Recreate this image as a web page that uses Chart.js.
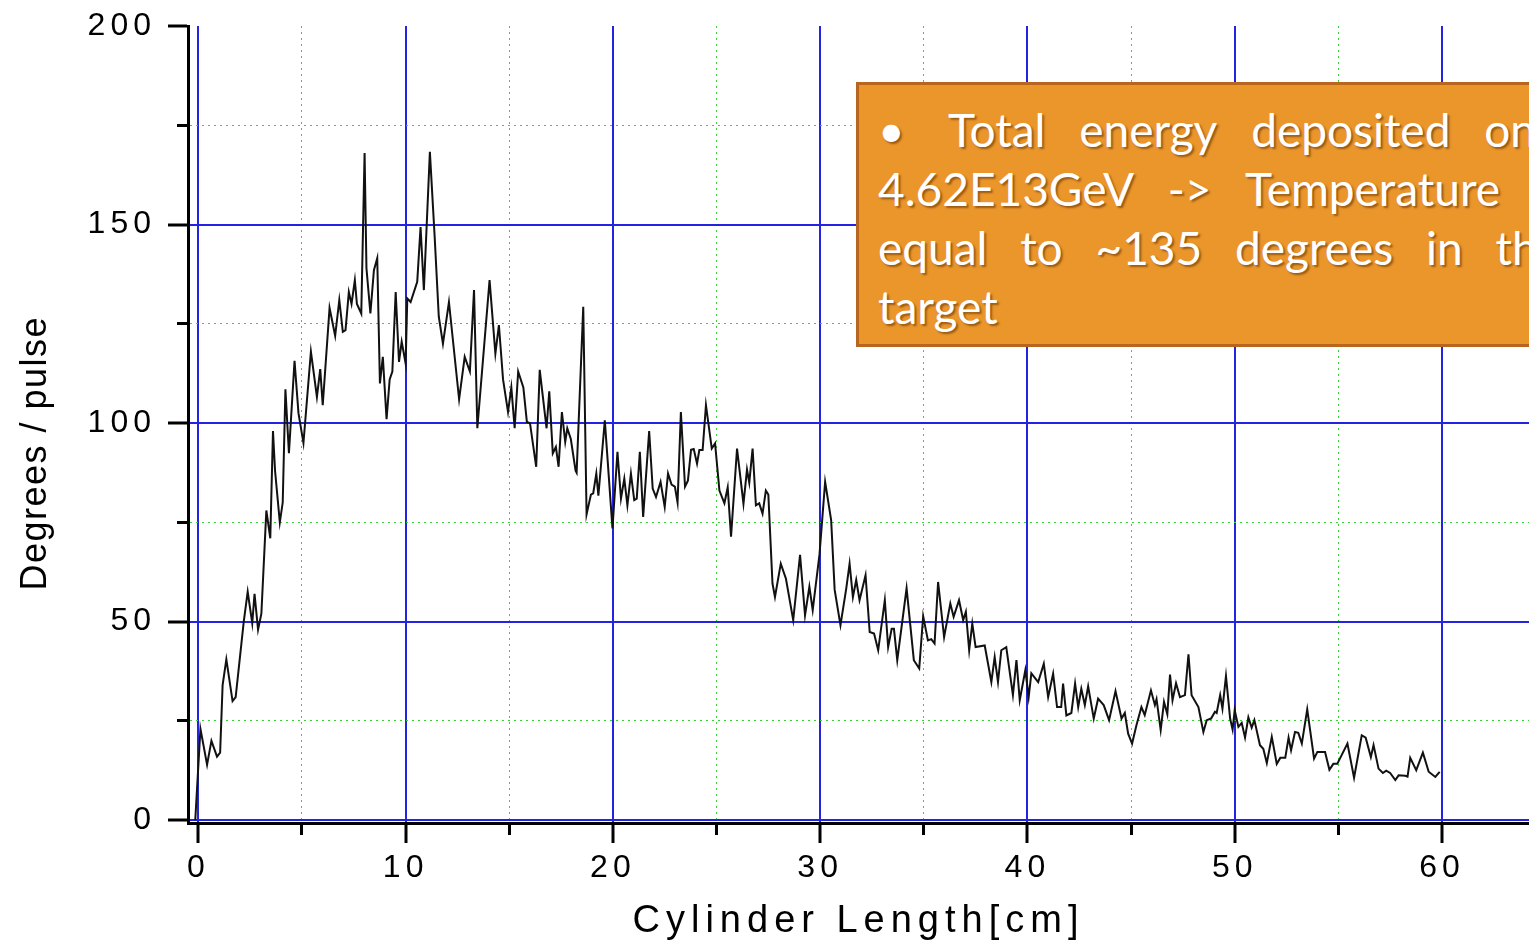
<!DOCTYPE html>
<html>
<head>
<meta charset="utf-8">
<script src="https://cdn.jsdelivr.net/npm/chart.js@4.4.1/dist/chart.umd.min.js"></script>
<style>
  html, body { margin: 0; padding: 0; background: #fff; overflow: hidden; }
  #wrap { position: relative; width: 1529px; height: 949px; }
  #note {
    position: absolute; left: 856px; top: 82px; width: 760px; height: 259px;
    background: #ea962b; border: 3px solid #b8661f; overflow: hidden;
    font-family: Lato, "Open Sans", sans-serif; font-size: 46px; color: #fff;
    text-shadow: 2px 2px 2px rgba(90, 40, 0, 0.55);
  }
  #note .row { position: absolute; left: 19px; height: 59px; line-height: 59px;
    display: flex; justify-content: space-between; white-space: nowrap; }
</style>
</head>
<body>
<div id="wrap">
  <canvas id="energyChart" width="1529" height="949"></canvas>
  <div id="note">
    <div class="row" style="top:15px;">•</div>
    <div class="row" style="top:15px; left:89px; width:588px;"><span>Total</span><span>energy</span><span>deposited</span><span>on</span></div>
    <div class="row" style="top:74px; width:622px;"><span>4.62E13GeV</span><span>-&gt;</span><span>Temperature</span></div>
    <div class="row" style="top:133px; width:684px;"><span>equal</span><span>to</span><span>~135</span><span>degrees</span><span>in</span><span>the</span></div>
    <div class="row" style="top:192px;">target</div>
  </div>
</div>
<script>
// cylinder length (cm) and temperature rise per pulse
var lengthCm = [-0.15,0.1,0.42,0.63,0.9,1.05,1.17,1.35,1.65,1.8,2.19,2.38,2.6,2.71,2.88,3.04,3.28,3.47,3.6,3.7,3.93,4.07,4.2,4.37,4.64,4.83,5.07,5.43,5.72,5.88,6.0,
  6.33,6.6,6.8,6.97,7.1,7.26,7.39,7.55,7.65,7.86,8.02,8.11,8.3,8.47,8.63,8.76,8.9,9.08,9.23,9.36,9.52,9.68,9.81,10.0,10.08,10.24,10.56,10.72,10.88,11.17,11.4,11.6,11.8,12.09,
  12.58,12.85,13.1,13.3,13.46,14.05,14.33,14.5,14.7,14.94,15.1,15.26,15.43,15.68,15.85,16.0,16.3,16.47,16.8,16.93,17.1,17.25,17.38,17.54,17.7,17.8,17.97,18.2,18.25,18.57,18.73,18.94,19.05,19.2,19.3,19.61,19.98,
  20.22,20.39,20.55,20.7,20.87,21.03,21.15,21.3,21.46,21.75,21.92,22.08,22.3,22.5,22.66,22.83,22.99,23.12,23.28,23.48,23.62,23.77,23.9,24.06,24.17,24.33,24.49,24.77,24.93,25.14,25.38,25.54,25.7,25.99,26.3,26.47,26.58,26.74,26.9,27.06,27.22,27.38,27.5,27.7,27.82,28.1,28.35,28.7,29.03,29.27,29.48,29.64,29.97,
  30.24,30.53,30.7,30.98,31.26,31.42,31.58,31.74,31.9,32.19,32.39,32.6,32.8,33.12,33.28,33.45,33.56,33.72,34.17,34.52,34.78,34.97,35.2,35.36,35.52,35.69,35.98,36.28,36.44,36.7,36.9,37.03,37.19,37.34,37.5,37.94,38.26,38.42,38.58,38.74,38.98,39.3,39.47,39.63,39.9,
  40.06,40.19,40.52,40.79,41.0,41.24,41.43,41.63,41.72,41.88,42.12,42.3,42.45,42.6,42.77,42.93,43.2,43.41,43.68,43.94,44.25,44.54,44.7,44.86,45.05,45.26,45.5,45.66,45.96,46.15,46.23,46.43,46.59,46.75,46.88,47.0,47.17,47.36,47.6,47.77,47.92,48.25,48.49,48.65,48.86,49.05,49.13,49.3,49.41,49.58,49.78,49.9,
  50.0,50.18,50.34,50.5,50.66,50.82,50.95,51.22,51.38,51.55,51.79,52.03,52.2,52.44,52.6,52.72,52.91,53.07,53.24,53.5,53.83,53.99,54.36,54.57,54.76,54.95,55.44,55.76,56.13,56.32,56.57,56.7,56.94,57.15,57.31,57.5,57.75,57.91,58.23,58.34,58.47,58.76,59.08,59.36,59.68,59.89];
var degreesPerPulse = [0,23,14,20,16,17,34,40.5,30,31,50,57.5,49.6,57,48,52,78,71,98,88,75,80,108.5,92.4,115.7,102.5,95,118,106.6,113.6,104.5,
  129,122,131,123,123.4,133,130,136,130,127.6,168,139,127.6,138.5,141.5,110,116.7,101,111,113,133,115.4,120.5,115,131.4,130.5,135.6,149.4,133.5,168.3,147,126.8,120,130.5,
  106,116.7,113,133.5,98.7,136,117.5,124.7,111,102.8,109,98.7,113,109,100.3,100,89,113.4,98.7,108,92.4,94,89,102.8,95.3,98.7,96,88,87.5,129.3,77,82,82.3,87.3,81.7,100.7,73.5,
  92.8,81,86,79.3,87.3,80.6,81,92.8,76.4,98,83.5,81.4,85.2,78.9,87.3,84.5,84,80,102.8,84,85.5,93.3,93.5,89.8,93.2,93.2,104.5,93.6,94.9,83,79.8,83.8,71.4,93.6,79.7,88.3,85,93.6,79.3,79.8,77.2,83,82,59.6,56.2,64.6,60.8,50.4,66.8,51.6,58.8,52.9,67,
  85.2,75.6,58,49.1,58.4,64.6,56.2,60.5,55.4,61.7,47.4,47,42.8,55.4,43.6,48.2,48.2,40.3,58.4,40.3,38.2,51.4,45.3,45.6,44.5,60,46.1,54.6,51.2,55.4,50.4,52.5,42.8,49.5,43.6,44,34.8,41.1,34.8,42.8,43.6,31.5,40.3,30.2,37.8,
  31,37,34.8,39.4,31,36.9,28.5,28.5,34.4,26.4,27,34.4,28.5,33.1,29,33.7,25.6,30.6,29,25.2,32.5,25.6,27,21.8,19.3,23.9,28.5,26.5,32.7,29,30.5,22.7,29.8,26.7,36.7,30.2,34.5,31,31.5,41.8,31.5,28.5,22.2,25.2,25.6,27.3,27,31.5,28.1,36.3,25.6,22.8,
  27.7,23.5,24.5,20.8,25.9,23.3,25.2,18.9,18,14.4,21,14.2,15.7,15.7,20.8,17.6,22.2,22,19.3,27.9,15.5,17.2,17.2,12.7,14.2,14.2,19.3,10.7,21.4,20.8,15.9,18.9,13,11.9,12.5,11.9,10.1,11.3,11.2,11,15.7,12.6,17,12.2,10.9,12.2];
var xTickLabels = [0, 10, 20, 30, 40, 50, 60];
var yTickLabels = [0, 50, 100, 150, 200];

var majorBlue = 'rgb(35, 35, 225)';
var minorGreen = 'rgb(50, 215, 50)';

function isMajor(ctx, labels) {
  return ctx.tick && labels.indexOf(ctx.tick.value) !== -1;
}

// wider text, the original labels look stretched
var spacedText = {
  id: 'spacedText',
  beforeDraw: function(chart) {
    var spacing = { x: ['5px', '6px'], y: ['5px', '1.5px'] };
    ['x', 'y'].forEach(function(id) {
      var s = chart.scales[id];
      if (!s || s._spaced) return;
      s._spaced = true;
      var drawLabels = s.drawLabels, drawTitle = s.drawTitle;
      s.drawLabels = function(area) {
        this.ctx.save(); this.ctx.letterSpacing = spacing[id][0];
        drawLabels.call(this, area); this.ctx.restore();
      };
      s.drawTitle = function() {
        this.ctx.save(); this.ctx.letterSpacing = spacing[id][1];
        drawTitle.call(this); this.ctx.restore();
      };
    });
  }
};

var points = lengthCm.map(function(x, i) { return { x: x, y: degreesPerPulse[i] }; });

var ctx = document.getElementById('energyChart').getContext('2d');
var chart = new Chart(ctx, {
  type: 'line',
  data: {
    datasets: [{
      data: points,
      borderColor: '#111',
      borderWidth: 2,
      pointRadius: 0,
      tension: 0,
      fill: false
    }]
  },
  options: {
    responsive: false,
    animation: false,
    devicePixelRatio: 1,
    layout: { padding: { top: 26, right: 0, bottom: 0, left: 0 } },
    plugins: { legend: { display: false }, tooltip: { enabled: false } },
    scales: {
      x: {
        type: 'linear', position: 'bottom', min: -0.5, max: 64.2,
        afterFit: function(s) { s.height = 126; },
        ticks: {
          stepSize: 5, includeBounds: false, autoSkip: false, maxRotation: 0, padding: 6,
          color: '#000', font: { family: 'Liberation Sans', size: 32 },
          callback: function(v) { return xTickLabels.indexOf(v) !== -1 ? String(v) : ''; }
        },
        grid: {
          color: function(c) { return isMajor(c, xTickLabels) ? majorBlue : minorGreen; },
          lineWidth: function(c) { return isMajor(c, xTickLabels) ? 2 : 1; },
          tickLength: 20, tickColor: '#000', tickWidth: 3,
          tickBorderDash: function(c) { return isMajor(c, xTickLabels) ? [] : [10, 200]; }
        },
        border: {
          color: '#000', width: 3,
          dash: function(c) { return c.tick && !isMajor(c, xTickLabels) ? [2, 4] : []; }
        },
        title: {
          display: true, text: 'Cylinder Length[cm]', color: '#000',
          font: { family: 'Liberation Sans', size: 38 }, padding: { top: 0, bottom: 5 }
        }
      },
      y: {
        type: 'linear', position: 'left', min: -0.7, max: 200,
        afterFit: function(s) { s.width = 188; },
        ticks: {
          stepSize: 25, includeBounds: false, autoSkip: false, padding: 12,
          color: '#000', font: { family: 'Liberation Sans', size: 32, lineHeight: 0.8 },
          callback: function(v) { return yTickLabels.indexOf(v) !== -1 ? String(v) : ''; }
        },
        grid: {
          color: function(c) {
            if (c.tick && c.tick.value >= 200) return 'rgba(0,0,0,0)';
            return isMajor(c, yTickLabels) ? majorBlue : minorGreen;
          },
          lineWidth: function(c) { return isMajor(c, yTickLabels) ? 2 : 1; },
          tickLength: 20, tickColor: '#000', tickWidth: 3,
          tickBorderDash: function(c) { return isMajor(c, yTickLabels) ? [] : [0, 9, 12, 200]; }
        },
        border: {
          color: '#000', width: 3,
          dash: function(c) { return c.tick && !isMajor(c, yTickLabels) ? [2, 4] : []; }
        },
        title: {
          display: true, text: 'Degrees / pulse\u00a0\u00a0\u00a0\u00a0\u00a0', color: '#000',
          font: { family: 'Liberation Sans', size: 36 }, padding: { top: 14, bottom: 0 }
        }
      }
    }
  },
  plugins: [spacedText]
});
</script>
</body>
</html>
